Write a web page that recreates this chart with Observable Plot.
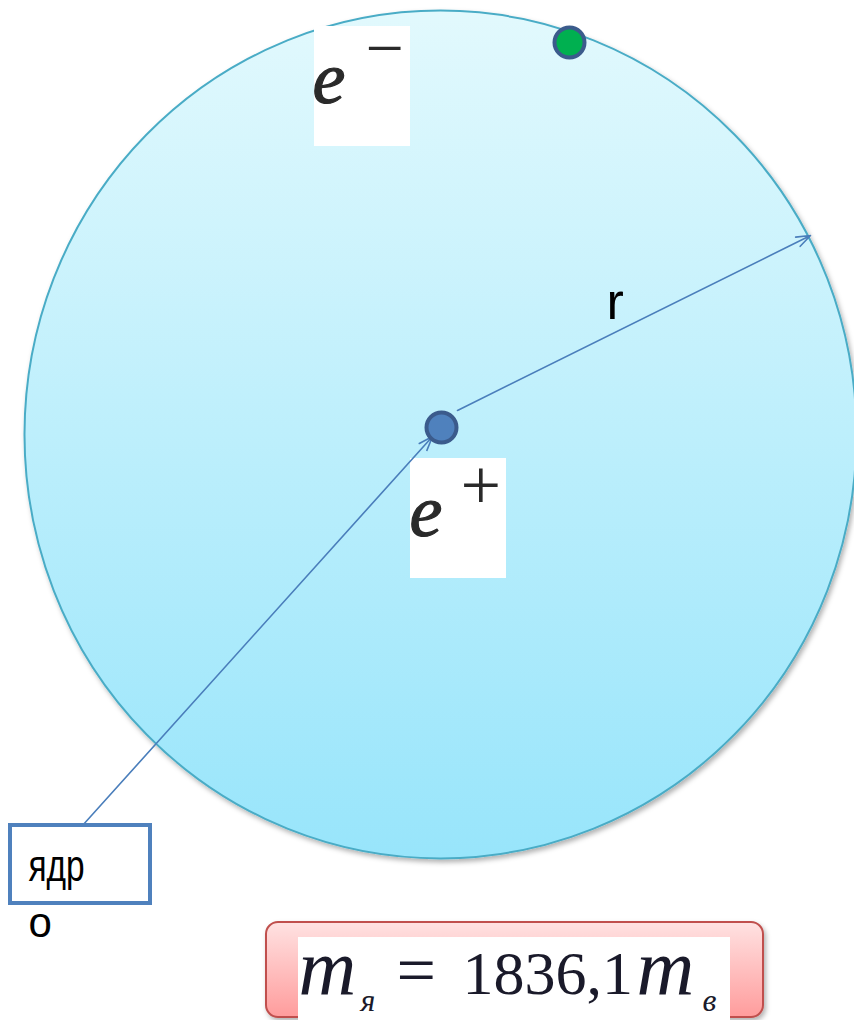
<!DOCTYPE html>
<html>
<head>
<meta charset="utf-8">
<script src="https://cdn.jsdelivr.net/npm/d3@7"></script>
<script src="https://cdn.jsdelivr.net/npm/@observablehq/plot@0.6"></script>
<style>
  html, body { margin: 0; padding: 0; background: #ffffff; }
  #chart svg { display: block; }
</style>
</head>
<body>
<div id="chart"></div>
<script>
// ---- Diagram data (atom model: nucleus, electron orbit) ----
const orbit = [{cx: 440, cy: 434, r: 416, stretchY: 1.019}];
const particles = [
  {name: "electron", cx: 569, cy: 42, r: 15, fill: "#00b050"},
  {name: "nucleus",  cx: 441, cy: 427, r: 15, fill: "#4f81bd"}
];
const arrows = [
  {name: "radius",  x1: 457, y1: 410, x2: 810, y2: 235},
  {name: "pointer", x1: 82,  y1: 825, x2: 432, y2: 436}
];
const labelBoxes = [
  {name: "e-", x1: 314, x2: 410, y1: 26,  y2: 146},
  {name: "e+", x1: 410, x2: 506, y1: 458, y2: 578}
];
const symbolLetters = [
  {text: "e", x: 312, y: 102, size: 74},
  {text: "e", x: 409, y: 535, size: 74}
];
const symbolSigns = [
  {text: "−", x: 365, y: 70,  size: 68},
  {text: "+", x: 460, y: 508, size: 72}
];
const plainTexts = [
  {text: "r",   x: 606, y: 318, size: 52},
  {text: "ядр", x: 28,  y: 880, size: 44},
  {text: "о",   x: 28,  y: 936, size: 42}
];
const narrowLabels = [{text: "ядр", scaleX: 0.76}];
const nucleusBox = [{x1: 10, x2: 150, y1: 825, y2: 903}];
const formulaBox = [{x1: 266, x2: 763, y1: 922, y2: 1017}];
const formulaInner = [{x1: 298, x2: 730, y1: 937, y2: 1020}];
const formulaItalic = [
  {text: "m", x: 298, y: 993,  size: 80},
  {text: "я", x: 360, y: 1010, size: 32},
  {text: "m", x: 636, y: 993,  size: 80},
  {text: "в", x: 702, y: 1010, size: 32}
];
const formulaUpright = [
  {text: "=",      x: 396, y: 993, size: 70},
  {text: "1836,1", x: 462, y: 993, size: 62}
];

const serif = "'Liberation Serif', 'DejaVu Serif', serif";
const sans = "Arial, 'Liberation Sans', sans-serif";

const plot = Plot.plot({
  width: 854,
  height: 1020,
  margin: 0,
  x: {type: "identity", axis: null},
  y: {type: "identity", axis: null},
  r: {type: "identity"},
  style: {background: "transparent", overflow: "visible"},
  marks: [
    Plot.dot(orbit, {x: "cx", y: "cy", r: "r", fill: "url(#orbitGrad)", stroke: "#4aacc6", strokeWidth: 2}),
    Plot.rect(labelBoxes, {x1: "x1", x2: "x2", y1: "y1", y2: "y2", fill: "#ffffff"}),
    Plot.arrow(arrows, {x1: "x1", y1: "y1", x2: "x2", y2: "y2", stroke: "#4a7ebb", strokeWidth: 1.6, headLength: 14, headAngle: 40}),
    Plot.dot(particles, {x: "cx", y: "cy", r: "r", fill: "fill", stroke: "#3b5b8c", strokeWidth: 4}),
    Plot.text(symbolLetters, {x: "x", y: "y", text: "text", fontSize: "size", fontStyle: "italic",
      fontFamily: serif, fill: "#2a2a2a", stroke: "#2a2a2a", strokeWidth: 1.2, textAnchor: "start", lineAnchor: "bottom"}),
    Plot.text(symbolSigns, {x: "x", y: "y", text: "text", fontSize: "size",
      fontFamily: serif, fill: "#2a2a2a", textAnchor: "start", lineAnchor: "bottom"}),
    Plot.rect(nucleusBox, {x1: "x1", x2: "x2", y1: "y1", y2: "y2", fill: "#ffffff", stroke: "#4f81bd", strokeWidth: 4}),
    Plot.text(plainTexts, {x: "x", y: "y", text: "text", fontSize: "size", fontFamily: sans,
      fill: "#000000", textAnchor: "start", lineAnchor: "bottom"}),
    Plot.rect(formulaBox, {x1: "x1", x2: "x2", y1: "y1", y2: "y2", fill: "url(#formulaGrad)", stroke: "#c0504d", strokeWidth: 2, rx: 12}),
    Plot.rect(formulaInner, {x1: "x1", x2: "x2", y1: "y1", y2: "y2", fill: "#ffffff"}),
    Plot.text(formulaItalic, {x: "x", y: "y", text: "text", fontSize: "size", fontStyle: "italic",
      fontFamily: serif, fill: "#1a1a2a", textAnchor: "start", lineAnchor: "bottom"}),
    Plot.text(formulaUpright, {x: "x", y: "y", text: "text", fontSize: "size",
      fontFamily: serif, fill: "#1a1a2a", textAnchor: "start", lineAnchor: "bottom"})
  ]
});

// gradients & shadow definitions
const svg = d3.select(plot);
const defs = svg.insert("defs", ":first-child");
const g1 = defs.append("linearGradient").attr("id", "orbitGrad").attr("x1", 0).attr("y1", 0).attr("x2", 0).attr("y2", 1);
g1.append("stop").attr("offset", "0%").attr("stop-color", "#e2f9fd");
g1.append("stop").attr("offset", "100%").attr("stop-color", "#98e5fb");
const g2 = defs.append("linearGradient").attr("id", "formulaGrad").attr("x1", 0).attr("y1", 0).attr("x2", 0).attr("y2", 1);
g2.append("stop").attr("offset", "0%").attr("stop-color", "#ffe2e2");
g2.append("stop").attr("offset", "100%").attr("stop-color", "#ff9c9c");
const f = defs.append("filter").attr("id", "shadow").attr("x", "-10%").attr("y", "-10%").attr("width", "120%").attr("height", "120%");
f.append("feDropShadow").attr("dx", 2).attr("dy", 3).attr("stdDeviation", 2.5).attr("flood-color", "#000").attr("flood-opacity", 0.3);

const dotGroups = plot.querySelectorAll("g[aria-label='dot']");
if (dotGroups.length) {
  dotGroups[0].setAttribute("filter", "url(#shadow)");
  const o = orbit[0];
  const c = dotGroups[0].querySelector("circle");
  if (c) c.setAttribute("transform", `translate(0,${o.cy}) scale(1,${o.stretchY}) translate(0,${-o.cy})`);
}
const rectGroups = plot.querySelectorAll("g[aria-label='rect']");
if (rectGroups.length >= 3) rectGroups[2].setAttribute("filter", "url(#shadow)");

// the reference draws the "ядр" label horizontally condensed
plot.querySelectorAll("text").forEach(t => {
  const n = narrowLabels.find(d => d.text === t.textContent);
  if (n) {
    const tr = t.getAttribute("transform") || "";
    t.setAttribute("transform", `${tr} scale(${n.scaleX},1)`);
  }
});

document.getElementById("chart").appendChild(plot);
</script>
</body>
</html>
